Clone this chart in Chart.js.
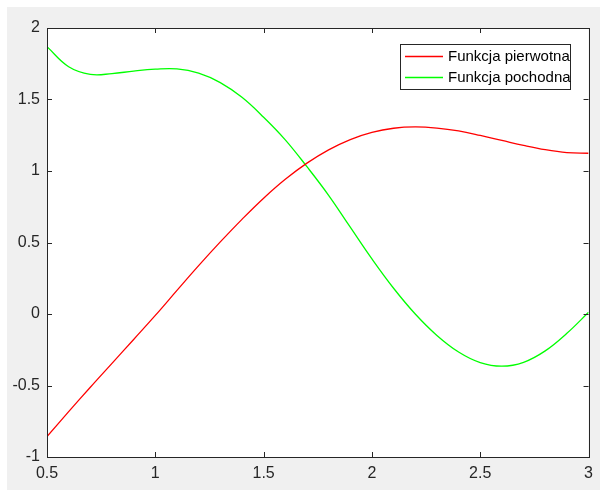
<!DOCTYPE html>
<html>
<head>
<meta charset="utf-8">
<script src="https://cdn.jsdelivr.net/npm/chart.js@4/dist/chart.umd.min.js"></script>
<style>
  html, body { margin: 0; padding: 0; background: #ffffff; }
  #wrap { width: 600px; height: 490px; position: relative; }
</style>
</head>
<body>
<div id="wrap"><canvas id="c" width="600" height="490"></canvas></div>
<script>
// x samples
const xValues = [0.5, 0.6, 0.7, 0.8, 0.9, 1.0, 1.1, 1.2, 1.3, 1.4, 1.5, 1.6, 1.7,
                 1.8, 1.9, 2.0, 2.1, 2.2, 2.3, 2.4, 2.5, 2.6, 2.7, 2.8, 2.9, 3.0];
// Funkcja pierwotna (red)
const pierwotna = [-0.857, -0.683, -0.512, -0.345, -0.178, -0.01, 0.165, 0.338, 0.504, 0.662,
                   0.810, 0.942, 1.055, 1.148, 1.220, 1.270, 1.299, 1.308, 1.300, 1.280,
                   1.249, 1.214, 1.179, 1.149, 1.129, 1.124];
// Funkcja pochodna (green)
const pochodna = [1.869, 1.729, 1.676, 1.681, 1.699, 1.712, 1.714, 1.684, 1.618, 1.515,
                  1.376, 1.218, 1.030, 0.830, 0.607, 0.385, 0.180, 0.0, -0.150, -0.266,
                  -0.340, -0.365, -0.338, -0.258, -0.135, 0.012];
const seriesLabels = ['Funkcja pierwotna', 'Funkcja pochodna'];
const xTicks = [0.5, 1, 1.5, 2, 2.5, 3];
const yTicks = [-1, -0.5, 0, 0.5, 1, 1.5, 2];

const AXIS_COLOR = '#262626';
const FONT = 'Arial, "Liberation Sans", Helvetica, sans-serif';

function toPoints(ys) { return xValues.map((x, i) => ({ x: x, y: ys[i] })); }

const frame = {
  id: 'frame',
  beforeDraw(chart) {
    const ctx = chart.ctx, a = chart.chartArea;
    ctx.save();
    ctx.fillStyle = '#ffffff';
    ctx.fillRect(0, 0, chart.width, chart.height);
    ctx.fillStyle = '#f0f0f0';
    ctx.fillRect(7, 7, chart.width - 7, chart.height - 7);
    ctx.fillStyle = '#ffffff';
    ctx.fillRect(a.left, a.top, a.right - a.left, a.bottom - a.top);
    ctx.restore();
  },
  afterDatasetsDraw(chart) {
    const ctx = chart.ctx, a = chart.chartArea;
    const xs = chart.scales.x, ys = chart.scales.y;
    const L = 5;
    ctx.save();
    ctx.strokeStyle = AXIS_COLOR;
    ctx.lineWidth = 1;
    ctx.beginPath();
    xTicks.forEach(v => {
      const px = Math.round(xs.getPixelForValue(v)) + 0.5;
      ctx.moveTo(px, a.bottom); ctx.lineTo(px, a.bottom - L);
      ctx.moveTo(px, a.top); ctx.lineTo(px, a.top + L);
    });
    yTicks.forEach(v => {
      const py = Math.round(ys.getPixelForValue(v)) + 0.5;
      ctx.moveTo(a.left, py); ctx.lineTo(a.left + L, py);
      ctx.moveTo(a.right, py); ctx.lineTo(a.right - L, py);
    });
    ctx.stroke();
    ctx.strokeRect(Math.round(a.left) + 0.5, Math.round(a.top) + 0.5,
                   Math.round(a.right - a.left), Math.round(a.bottom - a.top));
    ctx.restore();
  },
  afterDraw(chart) {
    const ctx = chart.ctx;
    const bx = 400.5, by = 44.5, bw = 170, bh = 45;
    ctx.save();
    ctx.fillStyle = '#ffffff';
    ctx.fillRect(bx, by, bw, bh);
    ctx.strokeStyle = AXIS_COLOR;
    ctx.lineWidth = 1;
    ctx.strokeRect(bx, by, bw, bh);
    ctx.font = '15px ' + FONT;
    ctx.textBaseline = 'middle';
    ctx.textAlign = 'left';
    chart.data.datasets.forEach((ds, i) => {
      const y = 56 + i * 21;
      ctx.strokeStyle = ds.borderColor;
      ctx.lineWidth = 1.3;
      ctx.beginPath();
      ctx.moveTo(405, y + 0.5); ctx.lineTo(443, y + 0.5);
      ctx.stroke();
      ctx.fillStyle = '#000000';
      ctx.fillText(ds.label, 448, y + 1);
    });
    ctx.restore();
  }
};

new Chart(document.getElementById('c'), {
  type: 'line',
  data: {
    datasets: [
      { label: seriesLabels[0], data: toPoints(pierwotna), borderColor: '#ff0000',
        borderWidth: 1.3, pointRadius: 0, tension: 0.4, fill: false },
      { label: seriesLabels[1], data: toPoints(pochodna), borderColor: '#00ff00',
        borderWidth: 1.3, pointRadius: 0, tension: 0.4, fill: false }
    ]
  },
  options: {
    responsive: false,
    animation: false,
    devicePixelRatio: 1,
    layout: { padding: { top: 28, right: 8, left: 0, bottom: 0 } },
    plugins: { legend: { display: false }, tooltip: { enabled: false } },
    scales: {
      x: {
        type: 'linear', min: 0.5, max: 3,
        afterBuildTicks(s) { s.ticks = xTicks.map(v => ({ value: v })); },
        afterFit(s) { s.height = 33; },
        grid: { display: false, drawTicks: false },
        border: { display: false },
        ticks: { color: AXIS_COLOR, font: { family: FONT, size: 16 }, padding: 7,
                 maxRotation: 0, autoSkip: false, callback: v => String(v) }
      },
      y: {
        type: 'linear', min: -1, max: 2,
        afterBuildTicks(s) { s.ticks = yTicks.map(v => ({ value: v })); },
        afterFit(s) { s.width = 47; },
        grid: { display: false, drawTicks: false },
        border: { display: false },
        ticks: { color: AXIS_COLOR, font: { family: FONT, size: 16 }, padding: 7,
                 autoSkip: false, callback: v => String(v) }
      }
    }
  },
  plugins: [frame]
});
</script>
</body>
</html>
